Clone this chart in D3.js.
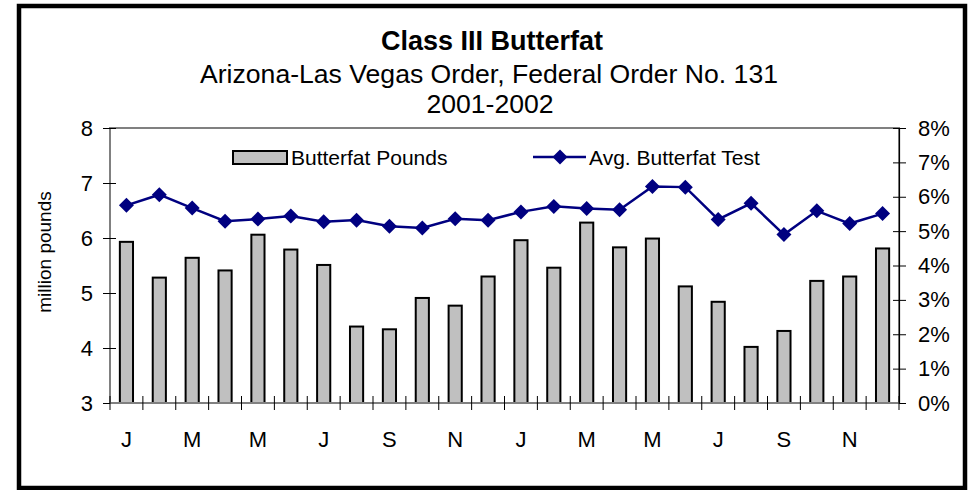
<!DOCTYPE html>
<html>
<head>
<meta charset="utf-8">
<script src="https://cdn.jsdelivr.net/npm/d3@7"></script>
<style>
  body { margin: 0; background: #fff; }
  text { font-family: Arial, "Liberation Sans", sans-serif; fill: #000; }
</style>
</head>
<body>
<div id="chart"></div>
<script>
// Class III butterfat, Arizona-Las Vegas order, 2001-2002
var monthLabels = ["J","F","M","A","M","J","J","A","S","O","N","D",
                   "J","F","M","A","M","J","J","A","S","O","N","D"];

// million pounds (left axis)
var butterfatPounds = [5.93, 5.28, 5.64, 5.41, 6.06, 5.79, 5.51, 4.39, 4.34, 4.91, 4.77, 5.30,
                       5.96, 5.46, 6.28, 5.83, 5.99, 5.12, 4.84, 4.02, 4.31, 5.22, 5.30, 5.81];

// average butterfat test, percent (right axis)
var butterfatTest = [5.75, 6.06, 5.67, 5.29, 5.35, 5.44, 5.27, 5.32, 5.14, 5.09, 5.36, 5.32,
                     5.56, 5.72, 5.66, 5.62, 6.30, 6.28, 5.34, 5.81, 4.90, 5.59, 5.22, 5.51];

var leftTicks = [3, 4, 5, 6, 7, 8];
var rightTicks = [0, 1, 2, 3, 4, 5, 6, 7, 8];

var width = 975,
  height = 490,
  margin = {top: 128, right: 76, bottom: 87, left: 110};
var plotW = width - margin.left - margin.right,
  plotH = height - margin.top - margin.bottom;

var svg = d3.select("#chart").append("svg")
  .attr("width", width)
  .attr("height", height);

// outer frame
svg.append("rect")
  .attr("x", 19).attr("y", 6)
  .attr("width", 946).attr("height", 482)
  .attr("fill", "#fff")
  .attr("stroke", "#000")
  .attr("stroke-width", 4.5);

// titles
svg.append("text").attr("x", 492).attr("y", 50)
  .attr("text-anchor", "middle").style("font-size", "27px").style("font-weight", "bold")
  .text("Class III Butterfat");
svg.append("text").attr("x", 489).attr("y", 83)
  .attr("text-anchor", "middle").style("font-size", "26.6px")
  .text("Arizona-Las Vegas Order, Federal Order No. 131");
svg.append("text").attr("x", 490).attr("y", 113)
  .attr("text-anchor", "middle").style("font-size", "26.6px")
  .text("2001-2002");

var g = svg.append("g")
  .attr("transform", "translate(" + margin.left + "," + margin.top + ")");

//Scales
var x = d3.scaleBand()
  .domain(d3.range(monthLabels.length))
  .range([0, plotW])
  .paddingInner(0.6)
  .paddingOuter(0.3);

var slot = d3.scaleLinear().domain([0, monthLabels.length]).range([0, plotW]);

var yL = d3.scaleLinear().domain([3, 8]).range([plotH, 0]);
var yR = d3.scaleLinear().domain([0, 8]).range([plotH, 0]);

// plot area border
g.append("rect")
  .attr("width", plotW).attr("height", plotH)
  .attr("fill", "none")
  .attr("stroke", "#808080")
  .attr("stroke-width", 2);

//Bars
g.selectAll("rect.bar")
  .data(butterfatPounds)
  .enter().append("rect")
  .attr("class", "bar")
  .attr("x", function(d, i) { return x(i); })
  .attr("y", function(d) { return yL(d); })
  .attr("width", x.bandwidth())
  .attr("height", function(d) { return plotH - yL(d); })
  .attr("fill", "#c0c0c0")
  .attr("stroke", "#000")
  .attr("stroke-width", 2);

//Left axis
var leftAxis = g.append("g")
  .call(d3.axisLeft(yL).tickValues(leftTicks).tickSize(0).tickPadding(17).tickFormat(d3.format("d")));
leftAxis.select(".domain").remove();
leftAxis.selectAll(".tick line").attr("x1", -7).attr("x2", 6).attr("stroke", "#000");
leftAxis.selectAll("text").style("font-size", "22px").style("font-family", "Arial, 'Liberation Sans', sans-serif");

//Right axis
var rightAxis = g.append("g")
  .attr("transform", "translate(" + plotW + ",0)")
  .call(d3.axisRight(yR).tickValues(rightTicks).tickSize(0).tickPadding(19)
    .tickFormat(function(d) { return d + "%"; }));
rightAxis.select(".domain").attr("stroke", "#000").attr("stroke-width", 1.2);
rightAxis.selectAll(".tick line").attr("x1", -6).attr("x2", 7).attr("stroke", "#000");
rightAxis.selectAll("text").style("font-size", "22px").style("font-family", "Arial, 'Liberation Sans', sans-serif");

//Bottom axis: tick marks at slot boundaries, letters under every other month
var bottom = g.append("g").attr("transform", "translate(0," + plotH + ")");
bottom.append("line")
  .attr("x1", 0).attr("x2", plotW)
  .attr("stroke", "#808080").attr("stroke-width", 2);
bottom.selectAll("line.tick")
  .data(d3.range(monthLabels.length + 1))
  .enter().append("line")
  .attr("class", "tick")
  .attr("x1", function(d) { return slot(d); })
  .attr("x2", function(d) { return slot(d); })
  .attr("y1", -7).attr("y2", 7)
  .attr("stroke", "#000");
bottom.selectAll("text")
  .data(monthLabels)
  .enter().append("text")
  .filter(function(d, i) { return i % 2 === 0; })
  .attr("x", function(d, i) { return x(i * 2) + x.bandwidth() / 2; })
  .attr("y", 44)
  .attr("text-anchor", "middle")
  .style("font-size", "22px")
  .text(function(d) { return d; });

// y axis title
svg.append("text")
  .attr("transform", "translate(51,252) rotate(-90)")
  .attr("text-anchor", "middle")
  .style("font-size", "19px")
  .text("million pounds");

//Line + diamonds
var cx = function(i) { return x(i) + x.bandwidth() / 2; };
var line = d3.line()
  .x(function(d, i) { return cx(i); })
  .y(function(d) { return yR(d); });

g.append("path")
  .datum(butterfatTest)
  .attr("d", line)
  .attr("fill", "none")
  .attr("stroke", "#000080")
  .attr("stroke-width", 2.5);

function diamond(px, py, r) {
  return "M" + px + "," + (py - r) + "L" + (px + r) + "," + py +
    "L" + px + "," + (py + r) + "L" + (px - r) + "," + py + "Z";
}

g.selectAll("path.marker")
  .data(butterfatTest)
  .enter().append("path")
  .attr("class", "marker")
  .attr("d", function(d, i) { return diamond(cx(i), yR(d), 7.5); })
  .attr("fill", "#000080");

//Legend
var legend = svg.append("g");
legend.append("rect")
  .attr("x", 233).attr("y", 151)
  .attr("width", 54).attr("height", 13)
  .attr("fill", "#c0c0c0").attr("stroke", "#000").attr("stroke-width", 2);
legend.append("text").attr("x", 291).attr("y", 165)
  .style("font-size", "21px").text("Butterfat Pounds");
legend.append("line")
  .attr("x1", 533).attr("x2", 586).attr("y1", 157).attr("y2", 157)
  .attr("stroke", "#000080").attr("stroke-width", 2.5);
legend.append("path").attr("d", diamond(560, 157, 7.5)).attr("fill", "#000080");
legend.append("text").attr("x", 589).attr("y", 165)
  .style("font-size", "21px").text("Avg. Butterfat Test");
</script>
</body>
</html>
